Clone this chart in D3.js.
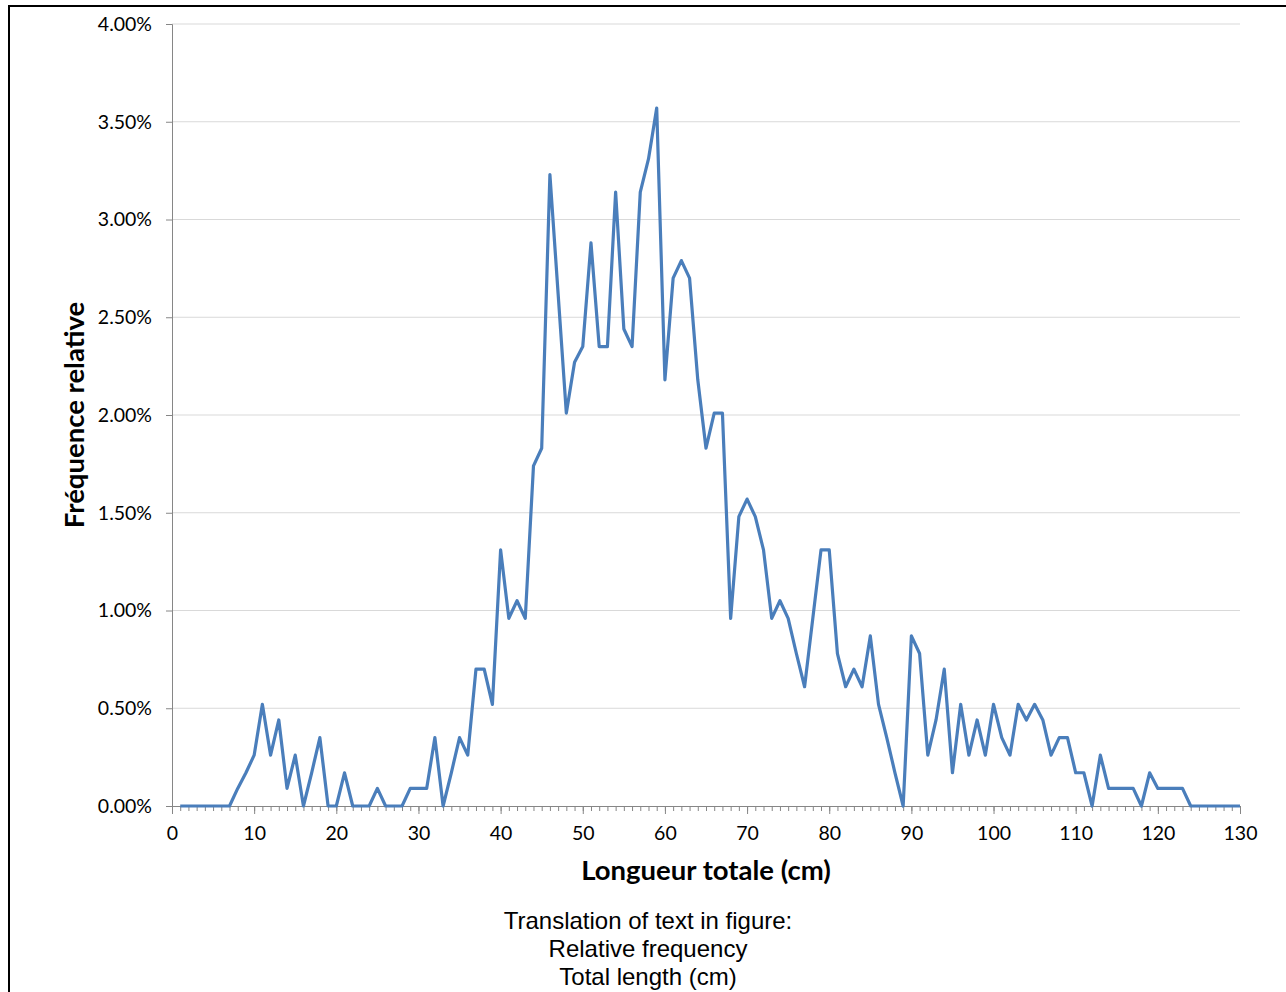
<!DOCTYPE html>
<html>
<head>
<meta charset="utf-8">
<script src="https://cdn.jsdelivr.net/npm/d3@7"></script>
<style>
  body { margin: 0; background: #fff; }
  svg { display: block; }
  .tick text { font-family: Lato, "Open Sans", sans-serif; font-size: 19.5px; fill: #000; }
</style>
</head>
<body>
<div id="graf"></div>
<script>
// longueur (cm), 1..130
const longueurs = [
  1,2,3,4,5,6,7,8,9,10, 11,12,13,14,15,16,17,18,19,20,
  21,22,23,24,25,26,27,28,29,30, 31,32,33,34,35,36,37,38,39,40,
  41,42,43,44,45,46,47,48,49,50, 51,52,53,54,55,56,57,58,59,60,
  61,62,63,64,65,66,67,68,69,70, 71,72,73,74,75,76,77,78,79,80,
  81,82,83,84,85,86,87,88,89,90, 91,92,93,94,95,96,97,98,99,100,
  101,102,103,104,105,106,107,108,109,110, 111,112,113,114,115,116,117,118,119,120,
  121,122,123,124,125,126,127,128,129,130
]
// fréquence relative (%)
const frequences = [
  0,0,0,0,0,0,0,0.09,0.17,0.26,
  0.52,0.26,0.44,0.09,0.26,0,0.17,0.35,0,0,
  0.17,0,0,0,0.09,0,0,0,0.09,0.09,
  0.09,0.35,0,0.17,0.35,0.26,0.70,0.70,0.52,1.31,
  0.96,1.05,0.96,1.74,1.83,3.23,2.62,2.01,2.27,2.35,
  2.88,2.35,2.35,3.14,2.44,2.35,3.14,3.31,3.57,2.18,
  2.70,2.79,2.70,2.18,1.83,2.01,2.01,0.96,1.48,1.57,
  1.48,1.31,0.96,1.05,0.96,0.78,0.61,0.96,1.31,1.31,
  0.78,0.61,0.70,0.61,0.87,0.52,0.35,0.17,0,0.87,
  0.78,0.26,0.44,0.70,0.17,0.52,0.26,0.44,0.26,0.52,
  0.35,0.26,0.52,0.44,0.52,0.44,0.26,0.35,0.35,0.17,
  0.17,0,0.26,0.09,0.09,0.09,0.09,0,0.17,0.09,
  0.09,0.09,0.09,0,0,0,0,0,0,0
]
const yTicks = [0, 0.5, 1, 1.5, 2, 2.5, 3, 3.5, 4]
const xTicks = [0, 10, 20, 30, 40, 50, 60, 70, 80, 90, 100, 110, 120, 130]
const traduction = ['Translation of text in figure:', 'Relative frequency', 'Total length (cm)']

const anchoTotal = 1286
const altoTotal = 992

const svg = d3.select('#graf')
  .append('svg')
  .attr('width', anchoTotal)
  .attr('height', altoTotal)

// cadre
svg.append('rect')
  .attr('x', 9).attr('y', 6)
  .attr('width', 1300).attr('height', 1100)
  .attr('fill', 'none')
  .attr('stroke', '#000')
  .attr('stroke-width', 2)

const x = d3.scaleLinear().domain([0, 130]).range([172, 1240])
const y = d3.scaleLinear().domain([0, 4]).range([806, 24])

// grille
svg.append('g')
  .selectAll('line')
  .data(yTicks.slice(1))
  .join('line')
    .attr('x1', x(0)).attr('x2', x(130))
    .attr('y1', d => y(d)).attr('y2', d => y(d))
    .attr('stroke', '#d9d9d9')
    .attr('stroke-width', 1)

// axe Y
const yAxis = svg.append('g')
  .attr('transform', `translate(${x(0)},0)`)
  .call(d3.axisLeft(y).tickValues(yTicks).tickSize(6).tickPadding(14)
    .tickFormat(d => d.toFixed(2) + '%'))
yAxis.select('.domain').attr('stroke', '#868686')
yAxis.selectAll('.tick line').attr('stroke', '#868686')

// axe X : petites graduations a chaque cm
const xAxisMinor = svg.append('g')
  .attr('transform', `translate(0,${y(0)})`)
  .call(d3.axisBottom(x).tickValues(d3.range(0, 131)).tickSize(5).tickFormat(''))
xAxisMinor.select('.domain').attr('stroke', '#868686')
xAxisMinor.selectAll('.tick line').attr('stroke', '#868686')

const xAxis = svg.append('g')
  .attr('transform', `translate(0,${y(0)})`)
  .call(d3.axisBottom(x).tickValues(xTicks).tickSize(8).tickPadding(12).tickFormat(d => d))
xAxis.select('.domain').remove()
xAxis.selectAll('.tick line').attr('stroke', '#868686')

// courbe
const linea = d3.line()
  .x((d, i) => x(longueurs[i]))
  .y(d => y(d))

svg.append('path')
  .datum(frequences)
  .attr('d', linea)
  .attr('fill', 'none')
  .attr('stroke', '#4a7ebb')
  .attr('stroke-width', 3.2)
  .attr('stroke-linejoin', 'round')

// titres
svg.append('text')
  .attr('x', 706).attr('y', 880)
  .attr('text-anchor', 'middle')
  .style('font-family', 'Lato, sans-serif')
  .style('font-weight', 'bold')
  .style('font-size', '27.5px')
  .text('Longueur totale (cm)')

svg.append('text')
  .attr('transform', 'translate(84,415) rotate(-90)')
  .attr('text-anchor', 'middle')
  .style('font-family', 'Lato, sans-serif')
  .style('font-weight', 'bold')
  .style('font-size', '27.5px')
  .text('Fréquence relative')

svg.append('g')
  .selectAll('text')
  .data(traduction)
  .join('text')
    .attr('x', 648)
    .attr('y', (d, i) => 929 + i * 28)
    .attr('text-anchor', 'middle')
    .style('font-family', '"Liberation Sans", Arial, sans-serif')
    .style('font-size', '24px')
    .text(d => d)
</script>
</body>
</html>
